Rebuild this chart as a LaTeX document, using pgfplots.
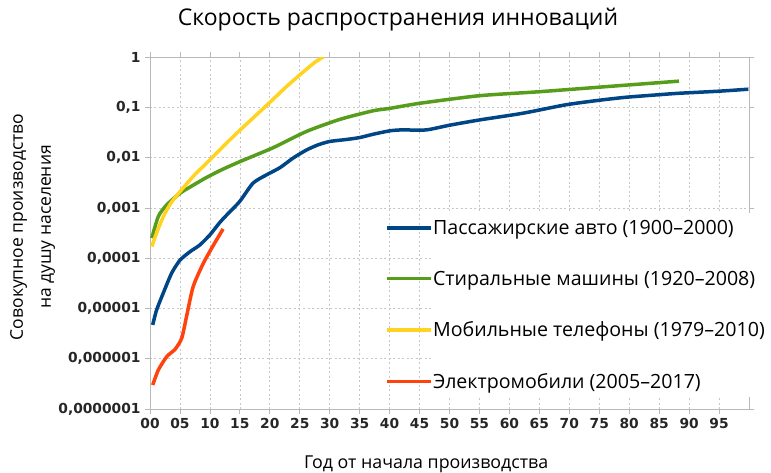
\documentclass[border=0pt]{standalone}
\usepackage{fontspec}
\setmainfont{Open Sans}
\newfontfamily\tickfont{DejaVu Sans}
\usepackage{pgfplots}
\pgfplotsset{compat=1.18}
\definecolor{cblue}{HTML}{004586}
\definecolor{cgreen}{HTML}{579D1C}
\definecolor{cyellow}{HTML}{FFD320}
\definecolor{cred}{HTML}{FF420E}
\begin{document}
\begin{tikzpicture}
\useasboundingbox (-150pt,-64pt) rectangle (621pt,409pt);
\begin{axis}[
  scale only axis,
  width=599pt, height=352pt,
  xmin=0, xmax=100,
  ymode=log, ymin=1e-7, ymax=1,
  xtick={0,5,...,95},
  xticklabels={00,05,10,15,20,25,30,35,40,45,50,55,60,65,70,75,80,85,90,95},
  ytick={1e-7,1e-6,1e-5,1e-4,1e-3,1e-2,1e-1,1},
  yticklabels={{0,0000001},{0,000001},{0,00001},{0,0001},{0,001},{0,01},{0,1},{1}},
  minor ytick={},
  log basis y=10,
  ticklabel style={font=\tickfont\bfseries\fontsize{13.8}{14}\selectfont, text=black!85},
  /pgf/number format/assume math mode=true,
  grid=major,
  grid style={gray!45, dash pattern=on 2pt off 2.5pt, line width=0.6pt},
  axis line style={gray!55, line width=0.8pt},
  tick align=outside,
  major tick length=5pt,
  tick style={gray!55, line width=0.7pt},
  xticklabel style={yshift=-1pt},
  yticklabel style={xshift=-1pt},
  title={Скорость распространения инноваций},
  title style={at={(axis description cs:0.414,1.072)}, anchor=base, font=\fontsize{23}{26}\selectfont},
  xlabel={Год от начала производства},
  xlabel style={at={(axis description cs:0.461,-0.168)}, anchor=base, font=\fontsize{17.8}{20}\selectfont},
  ylabel={Совокупное производство\\на душу населения},
  ylabel style={at={(axis description cs:-0.196,0.517)}, anchor=center, rotate=0, align=center, font=\fontsize{17.5}{28}\selectfont},
  legend style={at={(axis description cs:0.469,0.557)}, anchor=north west, fill=white, draw=none,
    font=\fontsize{19.6}{22}\selectfont, row sep=31pt, inner xsep=0pt, inner ysep=5pt, cells={anchor=west}},
  legend image code/.code={\draw[#1, overlay, line width=3.5pt] (-44pt,0pt) -- (0pt,0pt);},
  every axis plot/.append style={line width=3.5pt, smooth, tension=0.4},
  clip=true,
]
\addplot[cblue] coordinates {
(0.45,4.7e-6) (1.1,9.3e-6) (2.2,2.0e-5) (3.6,5.0e-5) (5,9.1e-5) (6.7,1.35e-4) (8.3,1.82e-4)
(10,2.9e-4) (11.7,5.2e-4) (13.3,8.3e-4) (15,1.35e-3) (17.2,3.1e-3) (19.4,4.5e-3) (21.7,6.3e-3)
(23.9,9.8e-3) (26.1,1.41e-2) (28,1.78e-2) (30,2.09e-2) (32.8,2.29e-2) (35,2.5e-2) (37.2,2.9e-2)
(40,3.4e-2) (42,3.55e-2) (46.1,3.55e-2) (50,4.4e-2) (55,5.6e-2) (62.2,7.6e-2) (69.4,0.112)
(75,0.138) (79.4,0.158) (85,0.178) (88.3,0.19) (95,0.209) (99.9,0.229)};
\addlegendentry{Пассажирские авто (1900–2000)}
\addplot[cgreen] coordinates {
(0.3,2.5e-4) (1.4,6.8e-4) (2.8,1.15e-3) (5,1.95e-3) (6.7,2.6e-3) (9.4,4.0e-3) (12,5.75e-3)
(15,8.3e-3) (20.6,1.58e-2) (26.1,3.3e-2) (31.7,5.75e-2) (37.2,8.5e-2) (40,9.5e-2) (45,0.12)
(55,0.17) (65,0.204) (77.2,0.263) (88.3,0.331)};
\addlegendentry{Стиральные машины (1920–2008)}
\addplot[cyellow] coordinates {
(0.3,1.7e-4) (1.2,3.4e-4) (2.3,7.0e-4) (3.5,1.25e-3) (5,2.1e-3) (7.5,4.6e-3) (10,9.0e-3)
(12.5,1.8e-2) (15,3.5e-2) (17.5,6.6e-2) (20,0.125) (22.5,0.24) (25,0.44) (27.5,0.78) (29,1.02)};
\addlegendentry{Мобильные телефоны (1979–2010)}
\addplot[cred] coordinates {
(0.45,3.0e-7) (1.4,6.0e-7) (2.8,1.1e-6) (4.2,1.55e-6) (5.3,2.57e-6) (6.1,6.9e-6) (7.2,2.7e-5)
(8.9,7.9e-5) (10.6,1.82e-4) (12.2,3.8e-4)};
\addlegendentry{Электромобили (2005–2017)}
\end{axis}
\end{tikzpicture}
\end{document}
